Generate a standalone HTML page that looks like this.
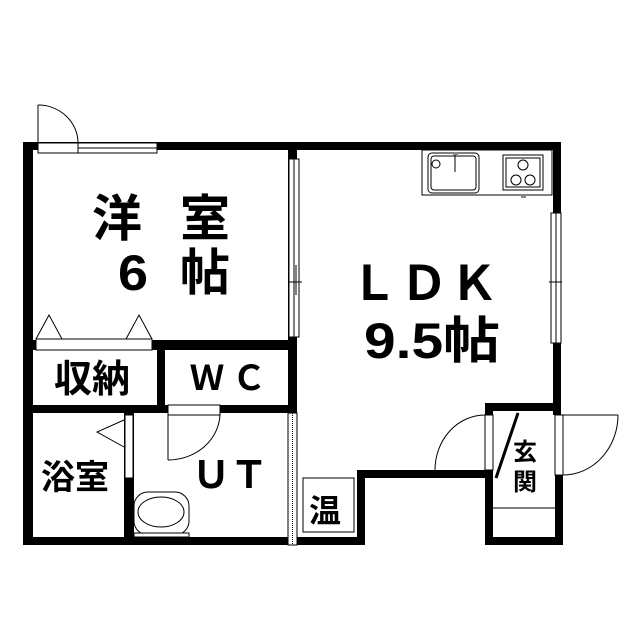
<!DOCTYPE html>
<html><head><meta charset="utf-8"><style>body{margin:0;background:#fff}svg{display:block}text{font-family:"Liberation Sans","Noto Sans CJK JP",sans-serif;fill:#000;font-weight:bold}</style></head><body>
<svg width="640" height="640" viewBox="0 0 640 640" xmlns="http://www.w3.org/2000/svg">
<rect width="640" height="640" fill="#fff"/>
<g fill="#000">
<rect x="23" y="142" width="538" height="8"/>
<rect x="23" y="142" width="10" height="403"/>
<rect x="553" y="142" width="8" height="71"/>
<rect x="553" y="343" width="8" height="72"/>
<rect x="555" y="475" width="8" height="70"/>
<rect x="485" y="403" width="76" height="8"/>
<rect x="485" y="403" width="8" height="142"/>
<rect x="357" y="470" width="136" height="8"/>
<rect x="357" y="470" width="8" height="75"/>
<rect x="23" y="537" width="342" height="8"/>
<rect x="485" y="537" width="78" height="8"/>
<rect x="288" y="150" width="9" height="263"/>
<rect x="33" y="340" width="264" height="10"/>
<rect x="157" y="350" width="8" height="63"/>
<rect x="23" y="405" width="274" height="8"/>
<rect x="124" y="413" width="10" height="132"/>
</g>
<g fill="#fff" stroke="#000" stroke-width="1">
<rect x="38" y="143" width="40" height="10"/>
<rect x="78" y="143" width="79" height="10"/>
<line x1="78" y1="148" x2="157" y2="148"/>
<rect x="289" y="159" width="10" height="178"/>
<line x1="294" y1="159" x2="294" y2="337"/>
<rect x="551" y="213" width="10" height="130"/>
<line x1="556" y1="213" x2="556" y2="343"/>
<rect x="36" y="339" width="116" height="11"/>
<rect x="168" y="405" width="52" height="10"/>
<rect x="125" y="415" width="8" height="63"/>
<rect x="288" y="413" width="9" height="132"/>
<line x1="292.5" y1="413" x2="292.5" y2="545" stroke-dasharray="1,1"/>
<rect x="485" y="415" width="8" height="55"/>
<rect x="555" y="415" width="8" height="60"/>
<rect x="303" y="478" width="51" height="54"/>
<rect x="422" y="150" width="130" height="45"/>
<rect x="428" y="153" width="51" height="40" rx="4"/>
<rect x="431" y="156" width="45" height="34" rx="3"/>
<circle cx="436" cy="164" r="4"/>
<rect x="503" y="155" width="40" height="35"/>
<rect x="506" y="158" width="34" height="29"/>
<circle cx="523" cy="165" r="5"/><circle cx="516" cy="180" r="5"/><circle cx="530" cy="180" r="5"/>
<rect x="134" y="492" width="55" height="43" rx="14"/>
<ellipse cx="161" cy="512" rx="23" ry="15"/>
<rect x="134" y="533" width="55" height="4"/>
</g>
<g fill="none" stroke="#000" stroke-width="1">
<line x1="38" y1="105" x2="38" y2="143"/>
<path d="M38 105 A40 38 0 0 1 78 143"/>
<line x1="289" y1="282" x2="302" y2="282"/><line x1="296" y1="265" x2="296" y2="295"/>
<line x1="549" y1="282" x2="562" y2="282"/><line x1="556" y1="268" x2="556" y2="295"/>
<path d="M36 339 L49 315 L62 339 M126 339 L139 315 L152 339"/>
<path d="M124 420 L97 432 L124 447"/>
<line x1="168" y1="413" x2="168" y2="460"/>
<path d="M220 413 A52 47 0 0 1 168 460"/>
<path d="M485 415 A50 55 0 0 0 435 470"/>
<line x1="563" y1="415" x2="618" y2="415"/>
<path d="M618 415 A55 60 0 0 1 563 475"/>
<line x1="493" y1="508" x2="555" y2="508"/>
<line x1="455" y1="153" x2="455" y2="172"/>
</g>
<rect x="453" y="152" width="5" height="3" fill="#888"/>
<rect x="521" y="195" width="5" height="3" fill="#888"/>
<line x1="518" y1="413" x2="496" y2="478" stroke="#000" stroke-width="3"/>
<text x="92" y="236" font-size="50">洋</text>
<text x="180" y="236" font-size="50">室</text>
<text x="118" y="290" font-size="50" textLength="30" lengthAdjust="spacingAndGlyphs">6</text>
<text x="180" y="290" font-size="50">帖</text>
<text x="350" y="300" font-size="48" textLength="148" lengthAdjust="spacing">ＬＤＫ</text>
<text x="364" y="358" font-size="50" textLength="136" lengthAdjust="spacingAndGlyphs">9.5帖</text>
<text x="54" y="392" font-size="38">収納</text>
<text x="190" y="390" font-size="34" textLength="76" lengthAdjust="spacing">ＷＣ</text>
<text x="41" y="489" font-size="34">浴室</text>
<text x="192" y="488" font-size="38" textLength="76" lengthAdjust="spacing">ＵＴ</text>
<text x="309" y="522" font-size="32">温</text>
<text x="513" y="460" font-size="24">玄</text>
<text x="513" y="490" font-size="24">関</text>
</svg>
</body></html>
